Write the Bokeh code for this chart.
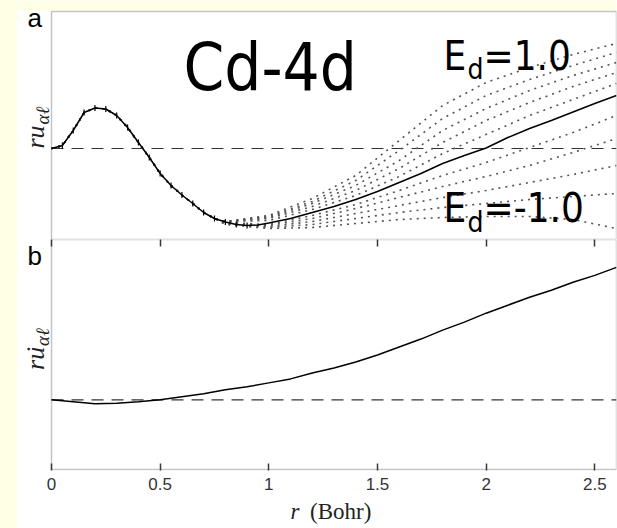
import math
from bokeh.plotting import figure
from bokeh.models import Label, LinearAxis, FixedTicker, Spacer, BoxAnnotation
from bokeh.layouts import column, row
from bokeh.embed import file_html
from bokeh.resources import INLINE

# ---------------- data ----------------
# panel a : r u_{alpha l} for E = 0 (solid)
r_a = [0.00, 0.05, 0.10, 0.15, 0.20, 0.25, 0.30, 0.35, 0.40, 0.45, 0.50, 0.55, 0.60,
       0.65, 0.70, 0.75, 0.80, 0.85, 0.90, 0.95, 1.00, 1.10, 1.20, 1.30, 1.40, 1.50,
       1.60, 1.70, 1.80, 1.90, 2.00, 2.10, 2.20, 2.30, 2.40, 2.50, 2.60]
u_a = [0.00, 0.03, 0.18, 0.36, 0.405, 0.395, 0.33, 0.21, 0.06, -0.09, -0.25, -0.37, -0.465,
       -0.55, -0.64, -0.70, -0.735, -0.76, -0.77, -0.765, -0.745, -0.70, -0.64, -0.58, -0.51, -0.43,
       -0.34, -0.25, -0.15, -0.07, 0.005, 0.11, 0.20, 0.28, 0.365, 0.45, 0.53]

# fan of curves for other energies (dotted), from r = 0.8 outwards
r_fan = [0.8, 1.0, 1.2, 1.4, 1.6, 1.8, 2.0, 2.2, 2.4, 2.6]
fan_p10 = [-0.73, -0.67, -0.50, -0.27, 0.08, 0.43, 0.66, 0.81, 0.94, 1.05]
fan_p08 = [-0.73, -0.68, -0.53, -0.32, -0.02, 0.30, 0.53, 0.69, 0.83, 0.96]
fan_p06 = [-0.73, -0.69, -0.55, -0.37, -0.12, 0.18, 0.40, 0.58, 0.73, 0.86]
fan_p04 = [-0.73, -0.70, -0.58, -0.42, -0.20, 0.06, 0.28, 0.46, 0.62, 0.76]
fan_p02 = [-0.73, -0.72, -0.61, -0.47, -0.28, -0.05, 0.14, 0.33, 0.49, 0.65]
fan_m02 = [-0.74, -0.76, -0.67, -0.56, -0.42, -0.27, -0.14, 0.01, 0.16, 0.33]
fan_m04 = [-0.74, -0.77, -0.70, -0.60, -0.49, -0.38, -0.28, -0.17, -0.04, 0.10]
fan_m06 = [-0.75, -0.78, -0.73, -0.65, -0.57, -0.49, -0.42, -0.34, -0.26, -0.17]
fan_m08 = [-0.75, -0.79, -0.76, -0.70, -0.64, -0.59, -0.55, -0.51, -0.48, -0.45]
fan_m10 = [-0.76, -0.80, -0.79, -0.75, -0.71, -0.69, -0.68, -0.68, -0.71, -0.80]
fan_curves = [fan_p10, fan_p08, fan_p06, fan_p04, fan_p02,
              fan_m02, fan_m04, fan_m06, fan_m08, fan_m10]

# panel b : r u-dot_{alpha l}
r_b = [0.0, 0.1, 0.2, 0.3, 0.4, 0.5, 0.6, 0.7, 0.8, 0.9, 1.0, 1.1, 1.2, 1.3,
       1.4, 1.5, 1.6, 1.7, 1.8, 1.9, 2.0, 2.1, 2.2, 2.3, 2.4, 2.5, 2.6]
ud_b = [0.0, -0.02, -0.04, -0.035, -0.02, 0.0, 0.03, 0.06, 0.10, 0.13, 0.17, 0.21, 0.27, 0.32,
        0.38, 0.45, 0.53, 0.61, 0.70, 0.78, 0.87, 0.95, 1.03, 1.10, 1.18, 1.25, 1.33]

x_ticks = [0, 0.5, 1, 1.5, 2, 2.5]
x_tick_labels = ["0", "0.5", "1", "1.5", "2", "2.5"]

# ---------------- styles ----------------
CREAM = "#FFFFE6"
FRAME = "#3a3a3a"
SERIF = "Liberation Serif"
SANS = "Liberation Sans"
BIG = "DejaVu Sans Condensed"
XR = (-0.1565, 2.6)          # frame extends left so the labels sit inside it

def base_fig(height, yr, bottom=0):
    f = figure(width=600, height=height, x_range=XR, y_range=yr,
               output_backend="svg", toolbar_location=None,
               x_axis_location=None, y_axis_location=None,
               min_border_left=0, min_border_right=1,
               min_border_top=0, min_border_bottom=bottom)
    f.grid.visible = False
    f.outline_line_color = None
    f.background_fill_color = "white"
    f.border_fill_color = "white"
    return f

def zero_line(f, xs):
    f.line([xs[0], xs[-1]], [0, 0], line_color="#333333", line_width=1.2, line_dash="12 8")

def lab(f, x, y, text, font, size, style="normal", angle=0, color="black"):
    f.add_layout(Label(x=x, y=y, text=text, text_font=font, text_font_size=size,
                       text_font_style=style, angle=angle, text_color=color,
                       text_baseline="bottom", text_align="left"))

# ---------------- panel a ----------------
pa = base_fig(239, (-0.91, 1.48))
pa.add_layout(BoxAnnotation(bottom=1.38, fill_color=CREAM, fill_alpha=1, line_alpha=0))
pa.add_layout(BoxAnnotation(left=r_a[0], right=r_a[-1], bottom=-0.91, top=1.37,
                            fill_alpha=0, line_color=FRAME, line_width=1.5))
zero_line(pa, r_a)
n_pre = r_a.index(0.8)
for vals in fan_curves:
    pa.line(r_a[:n_pre] + r_fan, u_a[:n_pre] + vals, line_color="#555555",
            line_width=1.6, line_dash="2 5")
pa.line(r_a, u_a, line_color="black", line_width=1.5)
mk_r = [r for r in r_a if 0 < r <= 0.9]
mk_u = [u for r, u in zip(r_a, u_a) if 0 < r <= 0.9]
pa.scatter(mk_r, mk_u, marker="dash", angle=math.pi / 2, size=6,
           line_color="black", line_width=1.2)

lab(pa, 0.607, 0.44, "Cd-4d", BIG, "65px")
for txt_y, sub_y, rest in [(0.70, 0.625, "=1.0"), (-0.82, -0.905, "=-1.0")]:
    lab(pa, 1.804, txt_y, "E", BIG, "40px")
    lab(pa, 1.914, sub_y, "d", BIG, "28px")
    lab(pa, 1.988, txt_y, rest, BIG, "40px")

lab(pa, -0.11, 1.155, "a", SANS, "26px")
lab(pa, -0.0064, 0.0, "ru", SERIF, "26px", "italic", math.pi / 2, "#222222")
lab(pa, 0.0046, 0.24, "\u03b1\u2113", SERIF, "19px", "italic", math.pi / 2, "#222222")

# ---------------- panel b ----------------
pb = base_fig(261, (-0.71, 1.61), bottom=30)
pb.add_layout(BoxAnnotation(left=r_b[0], right=r_b[-1], bottom=-0.70, top=1.61,
                            fill_alpha=0, line_color=FRAME, line_width=1.5))
zero_line(pb, r_b)
pb.line(r_b, ud_b, line_color="black", line_width=1.5)

overrides = {t: l for t, l in zip(x_ticks, x_tick_labels)}
blank = {t: "" for t in x_ticks}
top_ax = LinearAxis(ticker=FixedTicker(ticks=x_ticks), axis_line_color=None,
                    major_tick_in=7, major_tick_out=0, minor_tick_line_color=None,
                    major_tick_line_color=FRAME, major_tick_line_width=1.5,
                    major_label_overrides=blank, major_label_text_font_size="1px",
                    major_label_standoff=0)
pb.add_layout(top_ax, "above")
bot_ax = LinearAxis(ticker=FixedTicker(ticks=x_ticks), axis_line_color=None,
                    major_tick_in=7, major_tick_out=0, minor_tick_line_color=None,
                    major_tick_line_color=FRAME, major_tick_line_width=1.5,
                    major_label_overrides=overrides, major_label_standoff=7,
                    major_label_text_font=SANS, major_label_text_font_size="17px",
                    major_label_text_color="#333333")
pb.add_layout(bot_ax, "below")

lab(pb, -0.11, 1.295, "b", SANS, "26px")
lab(pb, -0.0064, 0.30, "ru", SERIF, "26px", "italic", math.pi / 2, "#222222")
lab(pb, -0.0064, 0.45, "\u02d9", SERIF, "26px", "italic", math.pi / 2, "#222222")
lab(pb, 0.0046, 0.54, "\u03b1\u2113", SERIF, "19px", "italic", math.pi / 2, "#222222")

# ---------------- x-axis title strip ----------------
pc = base_fig(28, (0, 28))
lab(pc, 1.10, 4.5, "r", SERIF, "23px", "italic", 0, "#222222")
lab(pc, 1.19, 4.5, "(Bohr)", SERIF, "23px", "normal", 0, "#222222")

left_strip = Spacer(width=17, height=528, styles={"background-color": CREAM})
p = row(left_strip, column(pa, pb, pc))

open("out.html", "w").write(file_html(p, INLINE))
